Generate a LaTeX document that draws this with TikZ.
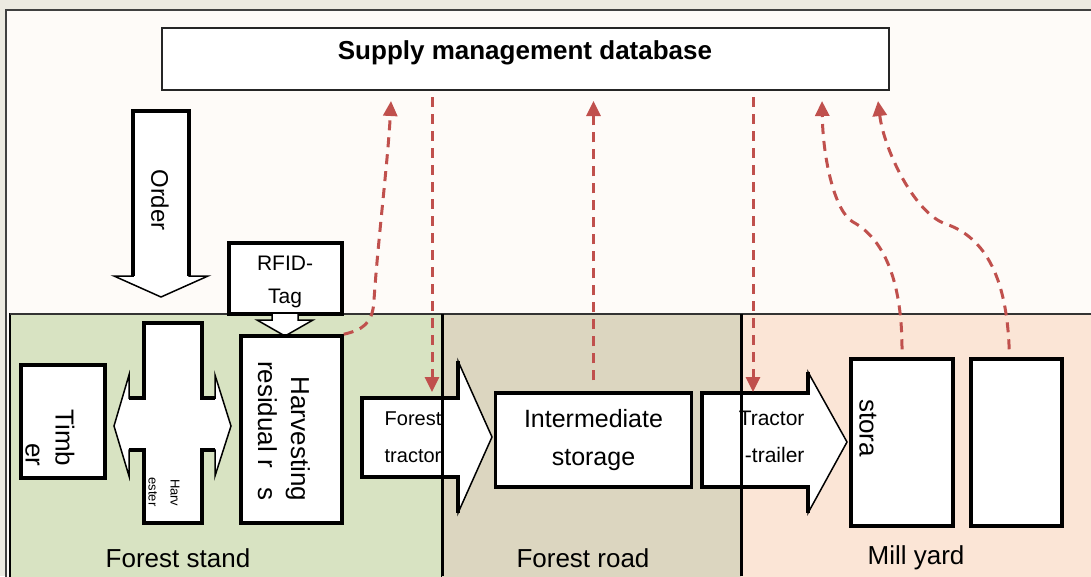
\documentclass[tikz,border=0pt]{standalone}
\usepackage{fontspec}
\setmainfont{Liberation Sans}
\usetikzlibrary{arrows.meta}

\definecolor{outerbg}{RGB}{236,234,225}
\definecolor{innerbg}{RGB}{254,251,248}
\definecolor{standgreen}{RGB}{216,227,194}
\definecolor{roadtan}{RGB}{220,214,192}
\definecolor{millpeach}{RGB}{251,229,214}
\definecolor{sigred}{RGB}{192,80,77}

\tikzset{
	box/.style={draw=black, line width=3.5pt, fill=white, inner sep=0pt},
	blkthin/.style={draw=black, line width=1.5pt, fill=white, line join=miter},
	blkthick/.style={draw=black, line width=3.5pt, line join=miter},
	sig/.style={draw=sigred, line width=3pt, dash pattern=on 10pt off 7pt,
		-{Triangle[width=14pt,length=15pt]}},
	big/.style={font=\fontsize{26}{33}\selectfont},
	mid/.style={font=\fontsize{20}{37}\selectfont, align=center},
}

\begin{document}
\begin{tikzpicture}[x=1pt,y=-1pt]
	\useasboundingbox (0,0) rectangle (1091,576);
	%background and frame
	\fill[outerbg] (0,0) rectangle (1091,576);
	\draw[line width=2pt, draw=black!75, fill=innerbg] (6,10) rectangle (1100,590);

	%zones
	\draw[line width=1.5pt, fill=standgreen] (10,314) rectangle (442,590);	%forest stand
	\fill[roadtan] (442,314) rectangle (741,590);							%forest road
	\fill[millpeach] (741,314) rectangle (1100,590);						%mill yard
	\draw[line width=1.5pt, black!80] (10,314) -- (1091,314);
		\node[big] (stand) at (178,558) {Forest stand};
		\node[big] (road) at (583,558) {Forest road};
		\node[big] (mill) at (916,558) {Mill yard};

	%database
	\node[box, line width=2pt, draw=black!85, minimum width=727pt, minimum height=62pt] (db) at (525.5,59) {};
	\node[font=\fontsize{26}{30}\selectfont\bfseries] (dbtext) at (525,53) {Supply management database};

	%order arrow
	\filldraw[blkthin] (133,111) -- (189,111) -- (189,276) -- (208,276) -- (161,297) -- (114,276) -- (133,276) -- cycle;
	\draw[blkthick] (133,276) -- (133,111) -- (189,111) -- (189,276);
		\node[font=\fontsize{24}{28}\selectfont, rotate=-90] (order) at (160,200) {Order};

	%rfid tag
	\node[box, minimum width=113pt, minimum height=71pt] (rfid) at (285.5,278.5) {};
		\node[font=\fontsize{21}{33}\selectfont, align=center] (rfidtext) at (285,282) {RFID-\\Tag};
	\filldraw[blkthin] (272,314) -- (272,320) -- (257,320) -- (285,336) -- (313,320) -- (298,320) -- (298,314);

	%forest stand boxes
	\node[box, minimum width=84pt, minimum height=113pt] (timber) at (63,421.5) {};
		\node[font=\fontsize{26}{30}\selectfont, align=right, rotate=-90] (timbertext) at (50,438) {Timb\\er};
	\node[box, minimum width=101pt, minimum height=187pt] (res) at (291.5,429.5) {};
		\node[font=\fontsize{26}{33}\selectfont, align=right, rotate=-90] (restext) at (284,431) {Harvesting\\residual r\hspace{20pt}s};

	%harvester
	\filldraw[blkthin] (144,323) -- (202,323) -- (202,398) -- (215,398) -- (215,375) -- (231,426) -- (215,476) -- (215,450)
		-- (202,450) -- (202,523) -- (144,523) -- (144,450) -- (129,450) -- (129,476) -- (114,426) -- (129,375) -- (129,398) -- (144,398) -- cycle;
	\draw[blkthick] (129,398) -- (144,398) -- (144,323) -- (202,323) -- (202,398) -- (215,398);
	\draw[blkthick] (129,450) -- (144,450) -- (144,523) -- (202,523) -- (202,450) -- (215,450);
		\node[font=\fontsize{13}{22}\selectfont, align=right, rotate=-90] (harvtext) at (164,492) {Harv\\ester};

	%forest tractor
	\filldraw[blkthin] (362,398) -- (458,398) -- (458,361) -- (492,437) -- (458,513) -- (458,477) -- (362,477) -- cycle;
	\draw[blkthick] (458,361) -- (458,398) -- (362,398) -- (362,477) -- (458,477) -- (458,513);
		\node[mid] (ft) at (413,437) {Forest\\tractor};

	%intermediate storage
	\node[box, minimum width=196pt, minimum height=94pt, font=\fontsize{25}{38}\selectfont, align=center] (is) at (593.5,440) {Intermediate\\storage};

	%tractor-trailer
	\filldraw[blkthin] (702,393) -- (808,393) -- (808,372) -- (847,442) -- (808,513) -- (808,487) -- (702,487) -- cycle;
	\draw[blkthick] (808,372) -- (808,393) -- (702,393) -- (702,487) -- (808,487) -- (808,513);
		\node[font=\fontsize{21}{37}\selectfont, align=right, anchor=east] (tt) at (808,437) {Tractor\\-trailer};

	%mill yard boxes
	\node[box, minimum width=102pt, minimum height=167pt] (my1) at (902,442.5) {};
		\node[big, rotate=-90] (storatext) at (868,428) {stora};
	\node[box, minimum width=91pt, minimum height=167pt] (my2) at (1016.5,442.5) {};

	%zone dividers
	\draw[line width=3pt] (442,314) -- (442,576);
	\draw[line width=3pt] (741,314) -- (741,576);

	%signal arrows
	\coordinate (u1) at (391,101);
	\coordinate (d2a) at (432,97);
	\coordinate (d2b) at (432,392);
	\coordinate (u3) at (593.5,101);
	\coordinate (d4a) at (753,97);
	\coordinate (d4b) at (753,392);
	\coordinate (u5) at (822,101);
	\coordinate (u6) at (878,101);
	\draw[sig] (res.north east) .. controls (362,330) and (373,324) .. (374,300) .. controls (378,240) and (388,160) .. (u1);
	\draw[sig] (d2a) -- (d2b);
	\draw[sig, shorten <=11pt] (is.north) -- (u3);
	\draw[sig] (d4a) -- (d4b);
	\draw[sig, shorten <=8pt] (my1.north) .. controls (902,285) and (886,240) .. (853,222) .. controls (835,212) and (823,160) .. (u5);
	\draw[sig, shorten <=8pt] ([xshift=-7pt]my2.north) .. controls (1007,290) and (992,240) .. (946,224) .. controls (915,214) and (884,150) .. (u6);
\end{tikzpicture}
\end{document}
